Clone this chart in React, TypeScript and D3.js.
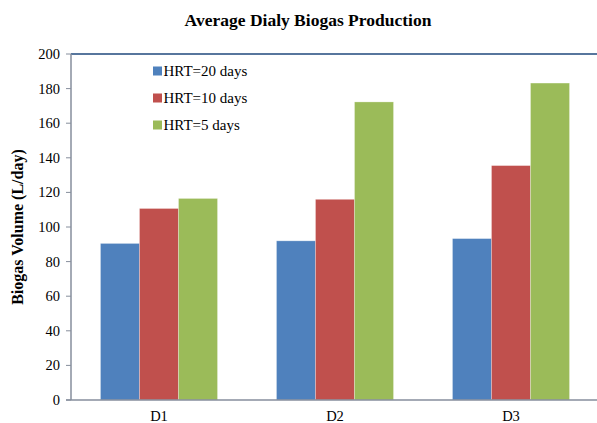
import React from "react";
import * as d3 from "d3";

const categories = ["D1", "D2", "D3"];
const seriesNames = ["HRT=20 days", "HRT=10 days", "HRT=5 days"];
const hrt20 = [90.5, 92, 93.3];
const hrt10 = [110.7, 116, 135.5];
const hrt5 = [116.5, 172.3, 183.2];
const seriesValues = [hrt20, hrt10, hrt5];
const seriesColors = ["#4F81BD", "#C0504D", "#9BBB59"];
const yTicks = [0, 20, 40, 60, 80, 100, 120, 140, 160, 180, 200];

const W = 597;
const H = 423;
const margin = { left: 71, right: 0, top: 54, bottom: 23 };
const font = "Times New Roman, Times, Liberation Serif, serif";

export default function App() {
  const x0 = d3
    .scaleBand<string>()
    .domain(categories)
    .range([margin.left, 599])
    .paddingInner(0.335)
    .paddingOuter(0.1675);
  const x1 = d3
    .scaleBand<number>()
    .domain(d3.range(seriesNames.length))
    .range([0, x0.bandwidth()]);
  const y = d3
    .scaleLinear()
    .domain([0, 200])
    .range([H - margin.bottom, margin.top]);

  const x0Left = margin.left;
  const y0 = y(0);

  return (
    <svg
      width={W}
      height={H}
      style={{ position: "absolute", left: 0, top: 0, background: "#fff", fontFamily: font }}
    >
      <text
        x={308}
        y={26}
        textAnchor="middle"
        fontSize={17.5}
        fontWeight="bold"
        fill="#000"
      >
        Average Dialy Biogas Production
      </text>

      {/* bars */}
      {categories.map((c, ci) => (
        <g key={c}>
          {seriesValues.map((vals, si) => (
            <rect
              key={si}
              x={(x0(c) ?? 0) + (x1(si) ?? 0)}
              y={y(vals[ci])}
              width={x1.bandwidth()}
              height={y0 - y(vals[ci])}
              fill={seriesColors[si]}
              stroke="#ffffff"
              strokeOpacity={0.35}
              strokeWidth={0.8}
            />
          ))}
        </g>
      ))}

      {/* top frame line */}
      <line x1={x0Left} x2={W} y1={y(200)} y2={y(200)} stroke="#1F497D" strokeWidth={1.5} />

      {/* y axis */}
      <line x1={x0Left} x2={x0Left} y1={y(200)} y2={y0} stroke="#868E9C" strokeWidth={1.5} />
      {yTicks.map((t) => (
        <g key={t}>
          <line x1={x0Left - 5} x2={x0Left} y1={y(t)} y2={y(t)} stroke="#868E9C" strokeWidth={1} />
          <text
            x={x0Left - 11}
            y={y(t)}
            dy="0.35em"
            textAnchor="end"
            fontSize={14.5}
            fill="#000"
          >
            {t}
          </text>
        </g>
      ))}

      {/* x axis */}
      <line x1={x0Left - 5} x2={W} y1={y0} y2={y0} stroke="#868E9C" strokeWidth={1.5} />
      {categories.map((c) => (
        <text
          key={c}
          x={(x0(c) ?? 0) + x0.bandwidth() / 2}
          y={y0 + 21}
          textAnchor="middle"
          fontSize={14.5}
          fill="#000"
        >
          {c}
        </text>
      ))}

      {/* y axis title */}
      <text
        transform={`translate(23,${(y(200) + y0) / 2}) rotate(-90)`}
        textAnchor="middle"
        fontSize={16}
        fontWeight="bold"
        fill="#000"
      >
        Biogas Volume (L/day)
      </text>

      {/* legend */}
      {seriesNames.map((n, i) => (
        <g key={n} transform={`translate(153,${71 + i * 27})`}>
          <rect x={0} y={-4.5} width={9} height={9} fill={seriesColors[i]} />
          <text x={10.5} y={0} dy="0.35em" fontSize={15} fill="#000">
            {n}
          </text>
        </g>
      ))}
    </svg>
  );
}
